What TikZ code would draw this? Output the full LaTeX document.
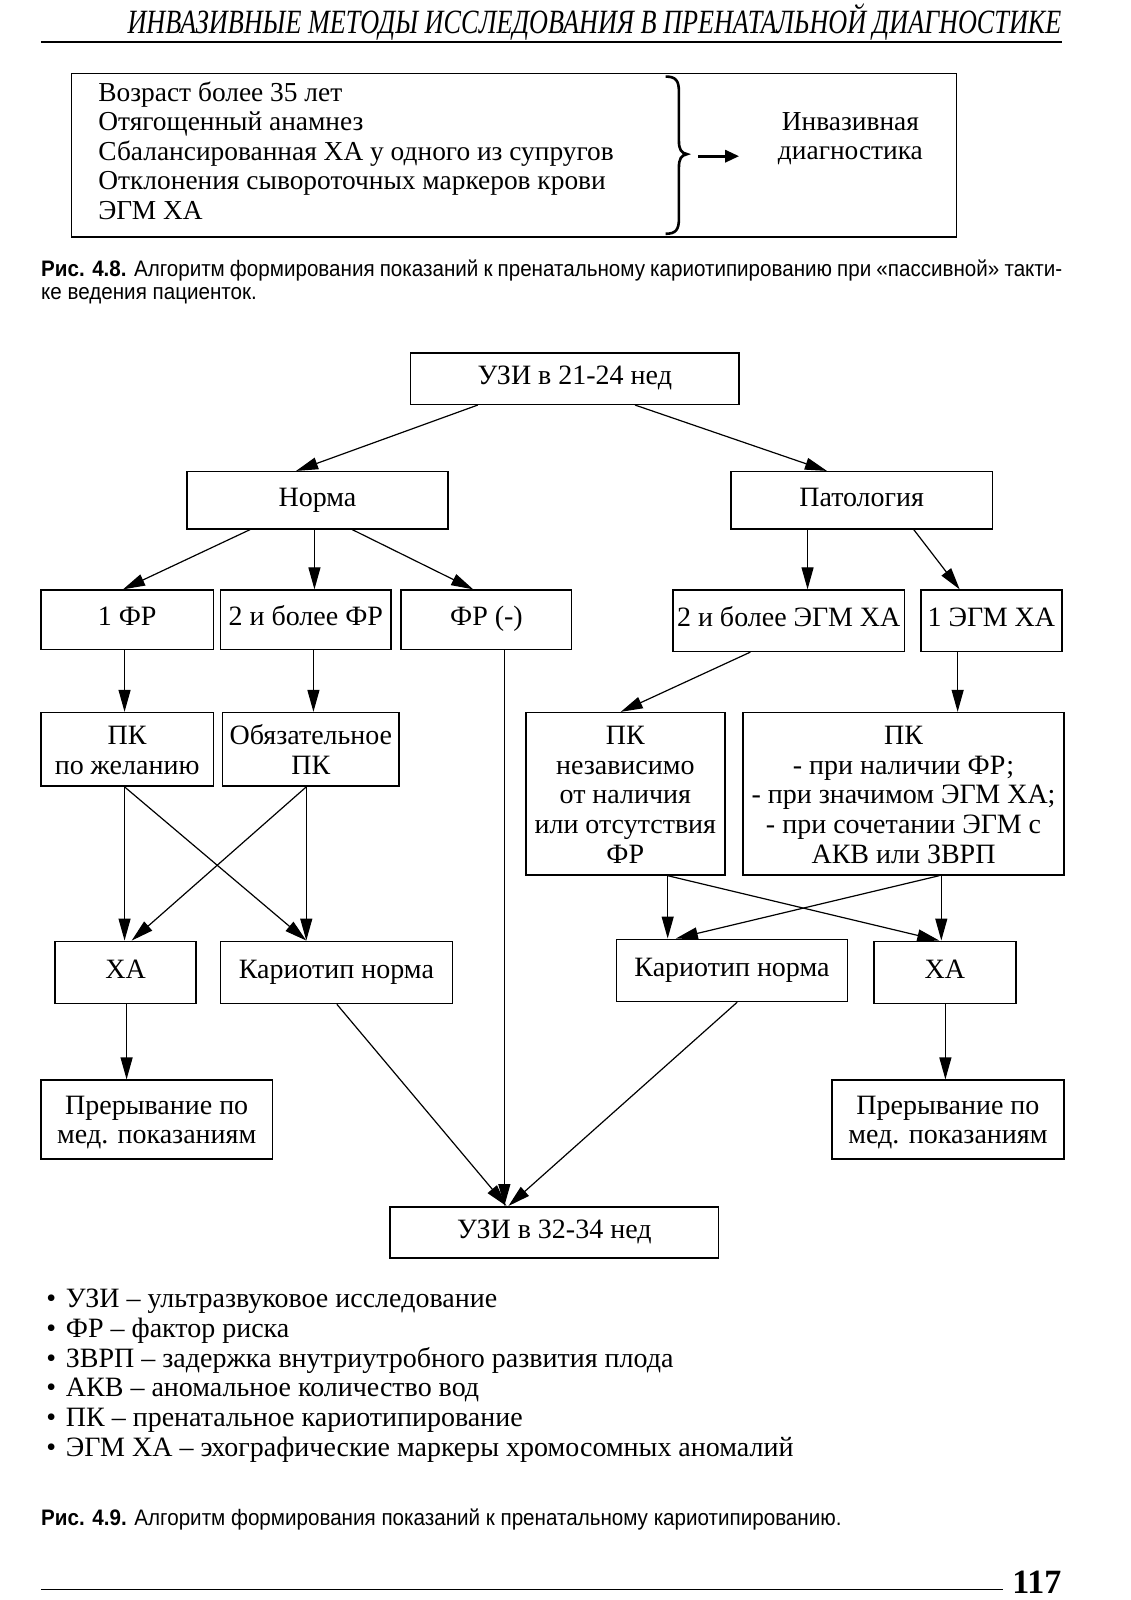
\documentclass[tikz,border=0pt]{standalone}
\usepackage{fontspec}
\setmainfont{Liberation Serif}
\newfontfamily\capfont[FakeStretch=0.92]{Liberation Sans}
\newfontfamily\hdrfont[FakeStretch=0.77]{Liberation Serif}
\usetikzlibrary{arrows.meta,calc}
\newdimen\PX \PX=0.5105pt
\tikzset{
  bx/.style={draw, line width=0.75pt, inner sep=0pt, align=center, font=\fontsize{14}{14.8}\selectfont},
  ar/.style={line width=0.6pt, -{Triangle[length=11pt,width=6pt]}},
  txt/.style={inner sep=0pt, anchor=base west},
}
\newcommand{\bxnode}[6]{\node[bx, minimum width=#4\PX, minimum height=#5\PX] (#1) at (#2,#3) {\strut #6\strut};}
\newcommand{\bxnodeM}[6]{\node[bx, minimum width=#4\PX, minimum height=#5\PX] (#1) at (#2,#3) {\rule{0pt}{12.3pt}#6\rule[-2.1pt]{0pt}{2.1pt}};}
\begin{document}
\begin{tikzpicture}[x=0.5105pt, y=-0.5105pt]
\useasboundingbox (0,0) rectangle (1107.8,1567.2);
% header
\node[inner sep=0pt, anchor=base east] (hdr) at (1040,33) {\hdrfont\itshape\fontsize{17}{18}\selectfont ИНВАЗИВНЫЕ МЕТОДЫ ИССЛЕДОВАНИЯ В ПРЕНАТАЛЬНОЙ ДИАГНОСТИКЕ};
\draw[line width=1.2pt] (40,41) -- (1040,41);
% top box
\node[draw, line width=0.75pt, minimum width=867\PX, minimum height=160\PX, inner sep=0pt] (topbox) at (503.5,152) {};
\begin{scope}[every node/.style={txt, font=\fontsize{13.7}{14}\selectfont}]
\node (t1) at (96,99) {Возраст более 35 лет};
\node (t2) at (96,128) {Отягощенный анамнез};
\node (t3) at (96,157) {Сбалансированная ХА у одного из супругов};
\node (t4) at (96,186) {Отклонения сывороточных маркеров крови};
\node (t5) at (96,215) {ЭГМ ХА};
\end{scope}
\node[inner sep=0pt, align=center, font=\fontsize{13.7}{14.8}\selectfont] (inv) at (833,136) {Инвазивная\\диагностика};
\draw[line width=1.3pt] (652,75) .. controls (662,75) and (665,79) .. (665,90) -- (665,138) .. controls (665,146) and (667,150) .. (673,151) .. controls (667,152) and (665,156) .. (665,164) -- (665,214) .. controls (665,225) and (662,229) .. (652,229);
\coordinate (bt) at (684,153);
\coordinate (at) at (724,153);
\draw[line width=1.5pt, -{Triangle[length=7pt,width=6pt]}] (bt) -- (at);
% caption 4.8
\node[txt] (c1) at (40,271) {\makebox[1000\PX][s]{\capfont\fontsize{11.2}{12}\selectfont\textbf{Рис. 4.8.} Алгоритм формирования показаний к пренатальному кариотипированию при «пассивной» такти-}};
\node[txt] (c2) at (40,293) {\capfont\fontsize{11.2}{12}\selectfont ке ведения пациенток.};
% flowchart boxes
\bxnode{u1}{563}{371}{322}{50}{УЗИ в 21-24 нед}
\bxnode{norma}{311}{490}{256}{56}{Норма}
\bxnode{pat}{844}{490}{256}{56}{Патология}
\bxnode{f1}{124.5}{607}{169}{58}{1 ФР}
\bxnode{f2}{299.5}{607}{167}{58}{2 и более ФР}
\bxnode{f0}{476.5}{607}{167}{58}{ФР (-)}
\bxnode{e2}{772.5}{608}{227}{60}{2 и более ЭГМ ХА}
\bxnode{e1}{971}{608}{138}{60}{1 ЭГМ ХА}
\bxnodeM{pk1}{124.5}{734}{169}{72}{ПК\\по желанию}
\bxnodeM{pk2}{304.5}{734}{173}{72}{Обязательное\\ПК}
\bxnodeM{pk3}{612.5}{777.5}{195}{159}{ПК\\независимо\\от наличия\\или отсутствия\\ФР}
\bxnodeM{pk4}{885}{777.5}{314}{159}{ПК\\- при наличии ФР;\\- при значимом ЭГМ ХА;\\- при сочетании ЭГМ с\\АКВ или ЗВРП}
\bxnode{xa1}{123}{952.5}{138}{61}{ХА}
\bxnode{kn1}{329.5}{952.5}{227}{61}{Кариотип норма}
\bxnode{kn2}{717}{950.5}{226}{61}{Кариотип норма}
\bxnode{xa2}{925.5}{952.5}{139}{61}{ХА}
\bxnodeM{pr1}{153.5}{1096.5}{227}{77}{Прерывание по\\мед. показаниям}
\bxnodeM{pr2}{928.5}{1096.5}{227}{77}{Прерывание по\\мед. показаниям}
\bxnode{u2}{543}{1207}{322}{50}{УЗИ в 32-34 нед}
% connectors
\draw[ar] ($(u1.south)+(-95,0)$) -- ($(norma.north)+(-21,0)$);
\draw[ar] ($(u1.south)+(59,0)$) -- ($(pat.north)+(-34,0)$);
\draw[ar] ($(norma.south)+(-66,0)$) -- ($(f1.north)+(-4,0)$);
\draw[ar] ($(norma.south)+(-3,0)$) -- ($(f2.north)+(8.5,0)$);
\draw[ar] ($(norma.south)+(34,0)$) -- ($(f0.north)+(-13,0)$);
\draw[ar] ($(pat.south)+(-53,0)$) -- ($(e2.north)+(18.5,0)$);
\draw[ar] ($(pat.south)+(51,0)$) -- ($(e1.north)+(-31,0)$);
\draw[ar] ($(f1.south)+(-2.5,0)$) -- ($(pk1.north)+(-2.5,0)$);
\draw[ar] ($(f2.south)+(7.5,0)$) -- ($(pk2.north)+(2.5,0)$);
\draw[ar] ($(f0.south)+(17.5,0)$) -- ($(u2.north)+(-49,0)$);
\draw[ar] ($(pk1.south)+(-2.5,0)$) -- ($(xa1.north)+(-1,0)$);
\draw[ar] ($(pk1.south)+(-2.5,0)$) -- ($(kn1.north)+(-29.5,0)$);
\draw[ar] ($(pk2.south)+(-4.5,0)$) -- ($(xa1.north)+(6,0)$);
\draw[ar] ($(pk2.south)+(-4.5,0)$) -- ($(kn1.north)+(-29.5,0)$);
\draw[ar] ($(e2.south)+(-37.5,0)$) -- ($(pk3.north)+(-4.5,0)$);
\draw[ar] ($(e1.south)+(-33,0)$) -- ($(pk4.north)+(53,0)$);
\draw[ar] ($(pk3.south)+(41.5,0)$) -- ($(kn2.north)+(-63,0)$);
\draw[ar] ($(pk3.south)+(41.5,0)$) -- ($(xa2.north)+(-5.5,0)$);
\draw[ar] ($(pk4.south)+(35,0)$) -- ($(kn2.north)+(-55,0)$);
\draw[ar] ($(pk4.south)+(37,0)$) -- ($(xa2.north)+(-3.5,0)$);
\draw[ar] ($(xa1.south)+(1,0)$) -- ($(pr1.north)+(-29.5,0)$);
\draw[ar] ($(xa2.south)+(0.5,0)$) -- ($(pr2.north)+(-2.5,0)$);
\draw[ar] ($(kn1.south)+(0.5,0)$) -- ($(u2.north)+(-47,0)$);
\draw[ar] ($(kn2.south)+(5,0)$) -- ($(u2.north)+(-45,0)$);
% legend
\begin{scope}[every node/.style={txt, font=\fontsize{14}{14.8}\selectfont}]
\node (l1) at (45,1281) {•\hspace{0.35em}УЗИ – ультразвуковое исследование};
\node (l2) at (45,1310) {•\hspace{0.35em}ФР – фактор риска};
\node (l3) at (45,1339) {•\hspace{0.35em}ЗВРП – задержка внутриутробного развития плода};
\node (l4) at (45,1368) {•\hspace{0.35em}АКВ – аномальное количество вод};
\node (l5) at (45,1397) {•\hspace{0.35em}ПК – пренатальное кариотипирование};
\node (l6) at (45,1427) {•\hspace{0.35em}ЭГМ ХА – эхографические маркеры хромосомных аномалий};
\end{scope}
% caption 4.9
\node[txt] (c3) at (40,1494) {\capfont\fontsize{11.2}{12}\selectfont\textbf{Рис. 4.9.} Алгоритм формирования показаний к пренатальному кариотипированию.};
% footer
\draw[line width=0.7pt] (40,1557) -- (982,1557);
\node[inner sep=0pt, anchor=base east] (pg) at (1040,1561) {\bfseries\fontsize{17}{18}\selectfont 117};
\end{tikzpicture}
\end{document}
